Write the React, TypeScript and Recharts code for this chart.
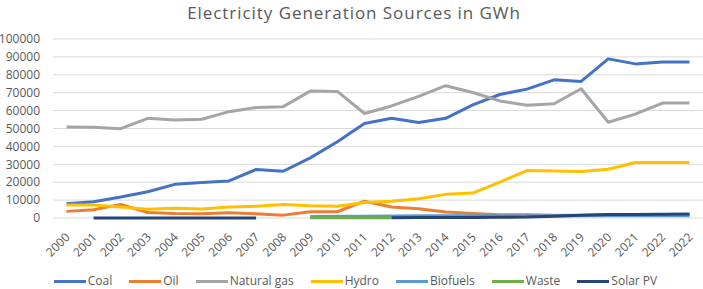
import React from 'react';
import { LineChart, Line, XAxis, YAxis, CartesianGrid, Legend } from 'recharts';

const years = ['2000','2001','2002','2003','2004','2005','2006','2007','2008','2009','2010','2011','2012','2013','2014','2015','2016','2017','2018','2019','2020','2021','2022','2022'];

const coal = [8000, 9100, 11700, 14700, 18800, 19800, 20700, 27100, 26100, 33600, 42600, 52800, 55700, 53300, 55700, 63200, 69000, 72000, 77200, 76300, 88900, 86100, 87200, 87200];
const oil = [3700, 4600, 7600, 3100, 2500, 2400, 3000, 2400, 1600, 3500, 3500, 9400, 6100, 5200, 3300, 2500, 1800, 1800, 1600, 1500, 1800, 1900, 2000, 2000];
const naturalGas = [50800, 50700, 49900, 55700, 54800, 55200, 59400, 61700, 62200, 70900, 70700, 58400, 62600, 67900, 73900, 70100, 65400, 63000, 63800, 72200, 53500, 58000, 64200, 64200];
const hydro = [7200, 7200, 6200, 4900, 5500, 5000, 6100, 6600, 7600, 6900, 6600, 8600, 9400, 10800, 13200, 13900, 20100, 26500, 26300, 26000, 27200, 31000, 31000, 31000];
const biofuels = [null, null, null, null, null, null, null, null, null, 900, 1000, 1000, 1100, 1200, 1300, 1300, 1300, 1300, 1300, 1300, 1300, 1300, 1300, 1300];
const waste = [null, null, null, null, null, null, null, null, null, 100, 100, 100, 100, null, null, null, null, null, null, null, null, null, null, null];
const solarPV = [null, 0, 0, 0, 0, 0, 0, 0, null, null, null, null, 200, 250, 300, 300, 400, 500, 1000, 1600, 2000, 2000, 2100, 2200];

const yTicks = [0, 10000, 20000, 30000, 40000, 50000, 60000, 70000, 80000, 90000, 100000];

const seriesDefs = [
  { key: 'coal', name: 'Coal', color: '#4472C4', values: coal },
  { key: 'oil', name: 'Oil', color: '#ED7D31', values: oil },
  { key: 'gas', name: 'Natural gas', color: '#A5A5A5', values: naturalGas },
  { key: 'hydro', name: 'Hydro', color: '#FFC000', values: hydro },
  { key: 'bio', name: 'Biofuels', color: '#5B9BD5', values: biofuels },
  { key: 'waste', name: 'Waste', color: '#70AD47', values: waste },
  { key: 'solar', name: 'Solar PV', color: '#264478', values: solarPV },
];

const data = years.map((y, i) => {
  const row: any = { year: y };
  seriesDefs.forEach((s) => { row[s.key] = s.values[i]; });
  return row;
});

const FONT = '"Open Sans", sans-serif';
const TEXT = '#595959';

const XTick = (props: any) => {
  const { x, y, payload } = props;
  return (
    <text
      x={0}
      y={0}
      transform={`translate(${x + 4},${y + 12}) rotate(-45)`}
      textAnchor="end"
      fontSize={12}
      fill={TEXT}
      fontFamily={FONT}
    >
      {payload.value}
    </text>
  );
};

const order = seriesDefs.map((s) => s.key);

const renderLegend = (props: any) => {
  const payload = [...(props.payload || [])].sort(
    (a: any, b: any) => order.indexOf(a.dataKey) - order.indexOf(b.dataKey)
  );
  return (
    <div style={{ display: 'flex', justifyContent: 'center', alignItems: 'center', height: 16, fontFamily: FONT, fontSize: 12, color: TEXT, paddingLeft: 8 }}>
      {payload.map((entry: any, i: number) => (
        <div key={i} style={{ display: 'flex', alignItems: 'center', marginRight: i === payload.length - 1 ? 0 : 17 }}>
          <span style={{ display: 'inline-block', width: 32, height: 3, background: entry.color, marginRight: 2 }} />
          <span style={{ lineHeight: '16px', whiteSpace: 'nowrap' }}>{entry.value}</span>
        </div>
      ))}
    </div>
  );
};

export default function App() {
  return (
    <div style={{ position: 'absolute', left: 0, top: 0, width: 703, height: 289, background: '#fff' }}>
      <LineChart width={703} height={289} data={data} margin={{ top: 39, right: 0, left: 0, bottom: 0 }}>
        <CartesianGrid vertical={false} stroke="#D9D9D9" />
        <XAxis dataKey="year" allowDuplicatedCategory={true} tickLine={false} axisLine={false} height={55} tick={<XTick />} interval={0} padding={{ left: 13.5, right: 13.5 }} />
        <YAxis domain={[0, 100000]} ticks={yTicks} tickLine={false} axisLine={false} width={53} tickSize={6} tickMargin={7} tick={{ fontSize: 12, fill: TEXT, fontFamily: FONT }} interval={0} />
        <Legend verticalAlign="bottom" height={16} content={renderLegend} />
        {seriesDefs.map((s) => (
          <Line key={s.key} type="linear" dataKey={s.key} name={s.name} stroke={s.color} strokeWidth={3} dot={false} activeDot={false} isAnimationActive={false} strokeLinejoin="round" />
        ))}
      </LineChart>
      <svg width={703} height={30} style={{ position: 'absolute', left: 0, top: 0, pointerEvents: 'none' }}>
        <text x={354} y={18.5} textAnchor="middle" fontSize={17} letterSpacing={0.95} fill={TEXT} fontFamily={FONT}>Electricity Generation Sources in GWh</text>
      </svg>
    </div>
  );
}
